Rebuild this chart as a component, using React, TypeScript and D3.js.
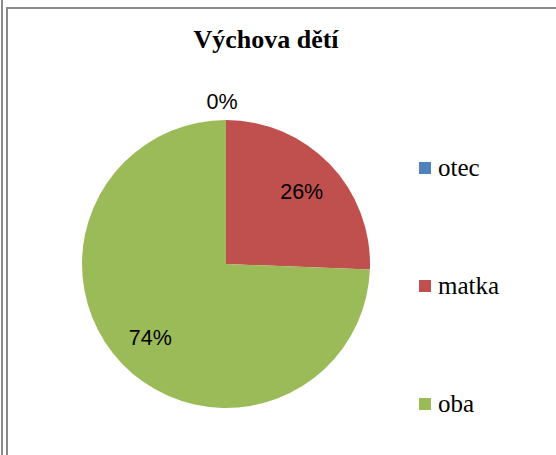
import React from "react";
import * as d3 from "d3";

const categories = ["otec", "matka", "oba"];
const values = [0, 25.6, 74.4];
const colors = ["#4F81BD", "#C0504D", "#9BBB59"];
const title = "Výchova dětí";

const W = 556;
const H = 455;
const cx = 226;
const cy = 264;
const R = 144;

export default function App() {
  const total = d3.sum(values);
  const pie = d3.pie<number>().sort(null).value((d) => d);
  const arcs = pie(values);
  const arcGen = d3.arc<d3.PieArcDatum<number>>().innerRadius(0).outerRadius(R);
  const inLabel = d3.arc<d3.PieArcDatum<number>>().innerRadius(R * 0.73).outerRadius(R * 0.73);
  const outLabel = d3.arc<d3.PieArcDatum<number>>().innerRadius(R * 1.13).outerRadius(R * 1.13);

  const legendY = d3.scalePoint<string>().domain(categories).range([168, 404]);

  return (
    <svg width={W} height={H} style={{ position: "absolute", left: 0, top: 0, background: "#fff" }}>
      <rect x={0} y={0} width={W} height={H} fill="#fff" />
      <rect x={1} y={0} width={2} height={H} fill="#8a8a8a" />
      <rect x={6} y={7} width={2} height={H - 7} fill="#8a8a8a" />
      <rect x={6} y={7} width={W - 6} height={2} fill="#8a8a8a" />
      <text
        x={266}
        y={48}
        textAnchor="middle"
        fontFamily="'Liberation Serif', 'Times New Roman', serif"
        fontWeight="bold"
        fontSize={26}
        fill="#000"
      >
        {title}
      </text>
      <g transform={`translate(${cx},${cy})`}>
        {arcs.map((a, i) => (
          <path key={i} d={arcGen(a) || ""} fill={colors[i]} />
        ))}
        {arcs.map((a, i) => {
          const pct = Math.round((values[i] / total) * 100);
          const isZero = values[i] === 0;
          const [x, y] = isZero ? outLabel.centroid(a) : inLabel.centroid(a);
          return (
            <text
              key={"l" + i}
              x={x - (isZero ? 4 : 0)}
              y={y}
              dy="0.36em"
              textAnchor="middle"
              fontFamily="'Liberation Sans', Arial, sans-serif"
              fontSize={21.5}
              fill="#000"
            >
              {pct}%
            </text>
          );
        })}
      </g>
      {categories.map((c, i) => (
        <g key={c} transform={`translate(419,${legendY(c)})`}>
          <rect x={0} y={-6} width={12} height={12} fill={colors[i]} />
          <text
            x={19}
            y={7.5}
            fontFamily="'Liberation Serif', 'Times New Roman', serif"
            fontSize={25}
            fill="#000"
          >
            {c}
          </text>
        </g>
      ))}
    </svg>
  );
}
